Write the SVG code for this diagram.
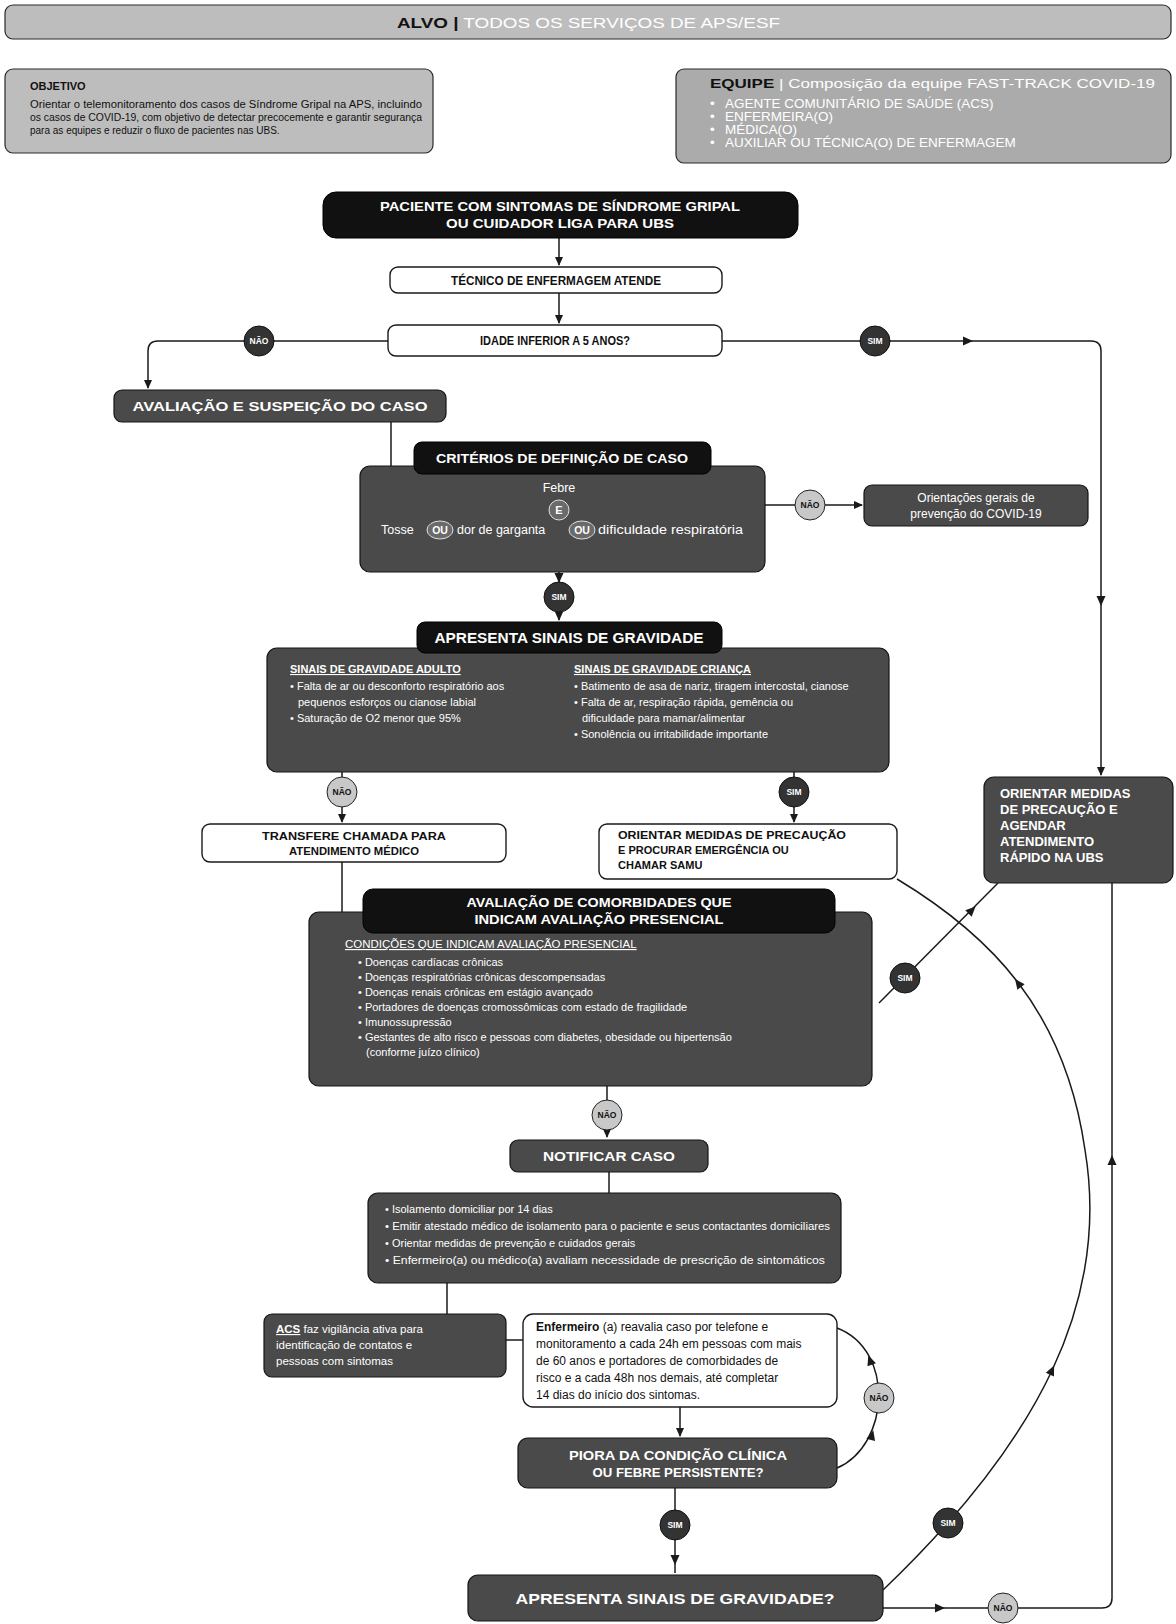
<svg xmlns="http://www.w3.org/2000/svg" width="1176" height="1624" viewBox="0 0 1176 1624">
<style>
text{font-family:"Liberation Sans",Arial,sans-serif;}
.lb{fill:#bdbdbd;stroke:#2a2a2a;stroke-width:1.2}
.dk{fill:#4a4a4a;stroke:#151515;stroke-width:1.2}
.bk{fill:#111;stroke:#000;stroke-width:1}
.wt{fill:#fff;stroke:#1a1a1a;stroke-width:1.4}
.h{font-weight:700;fill:#fff;text-anchor:middle}
.hd{font-weight:700;fill:#111;text-anchor:middle}
.b{fill:#fff;font-size:11px}
.c{stroke:#1a1a1a;stroke-width:1.5;fill:none}
.sim{fill:#333;stroke:#111;stroke-width:1}
.nao{fill:#c8c8c8;stroke:#222;stroke-width:1}
.st{font-size:8.5px;font-weight:700;text-anchor:middle}
.sw{fill:#fff}
.sb{fill:#111}
.eq{font-size:13.5px;fill:#fff}
</style>
<defs>
<marker id="a" markerWidth="10" markerHeight="10" refX="8" refY="5" orient="auto" markerUnits="userSpaceOnUse"><path d="M0,1 L9,5 L0,9 z" fill="#1a1a1a"/></marker>
<path id="ah" d="M-5,-4.5 L5,0 L-5,4.5 z" fill="#1a1a1a"/>
</defs>

<g id="alvo">
<rect class="lb" x="5" y="5" width="1166" height="34" rx="8"/>
<text x="397" y="28" font-size="14" textLength="383" lengthAdjust="spacingAndGlyphs"><tspan font-weight="700" fill="#111">ALVO |</tspan><tspan fill="#fff"> TODOS OS SERVIÇOS DE APS/ESF</tspan></text>
</g>

<g id="objetivo">
<rect class="lb" x="5" y="69" width="428" height="84" rx="8"/>
<text x="30" y="90" font-size="11" font-weight="700" fill="#111">OBJETIVO</text>
<text x="30" y="108" font-size="10" fill="#111" textLength="392" lengthAdjust="spacingAndGlyphs">Orientar o telemonitoramento dos casos de Síndrome Gripal na APS, incluindo</text>
<text x="30" y="121" font-size="10" fill="#111" textLength="392" lengthAdjust="spacingAndGlyphs">os casos de COVID-19, com objetivo de detectar precocemente e garantir segurança</text>
<text x="30" y="134" font-size="10" fill="#111">para as equipes e reduzir o fluxo de pacientes nas UBS.</text>
</g>

<g id="equipe">
<rect class="lb" x="676" y="69" width="495" height="94" rx="8" style="fill:#ababab"/>
<text x="710" y="88" font-size="12.5" textLength="445" lengthAdjust="spacingAndGlyphs"><tspan font-weight="700" fill="#111">EQUIPE</tspan><tspan fill="#fff"> | Composição da equipe FAST-TRACK COVID-19</tspan></text>
<text class="eq" x="710" y="108">•</text><text class="eq" x="725" y="108">AGENTE COMUNITÁRIO DE SAÚDE (ACS)</text>
<text class="eq" x="710" y="121">•</text><text class="eq" x="725" y="121">ENFERMEIRA(O)</text>
<text class="eq" x="710" y="134">•</text><text class="eq" x="725" y="134">MÉDICA(O)</text>
<text class="eq" x="710" y="147">•</text><text class="eq" x="725" y="147">AUXILIAR OU TÉCNICA(O) DE ENFERMAGEM</text>
</g>

<g id="connectors">
<path class="c" d="M559,238 V265" marker-end="url(#a)"/>
<path class="c" d="M559,293 V323" marker-end="url(#a)"/>
<path class="c" d="M388,341 H158 Q148,341 148,351 V388" marker-end="url(#a)"/>
<path class="c" d="M722,341 H1091 Q1101,341 1101,351 V775" marker-end="url(#a)"/>
<use href="#ah" transform="translate(968,341)"/>
<use href="#ah" transform="translate(1101,601) rotate(90)"/>
<path class="c" d="M391,422 V466"/>
<path class="c" d="M765,505 H862" marker-end="url(#a)"/>
<path class="c" d="M559,572 V620" marker-end="url(#a)"/>
<use href="#ah" transform="translate(559,578) rotate(90)"/>
<path class="c" d="M342,772 V822" marker-end="url(#a)"/>
<path class="c" d="M794,772 V822" marker-end="url(#a)"/>
<path class="c" d="M342,862 V912"/>
<path class="c" d="M879,1003 L998,883"/>
<use href="#ah" transform="translate(972,910) rotate(-45)"/>
<path class="c" d="M883,1590 C1040,1440 1110,1300 1085,1150 C1065,1010 990,935 897,879"/>
<use href="#ah" transform="translate(1052,1370) rotate(-65)"/>
<use href="#ah" transform="translate(1018,983) rotate(-127)"/>
<path class="c" d="M883,1608 H1102 Q1112,1608 1112,1598 V883"/>
<use href="#ah" transform="translate(940,1608)"/>
<use href="#ah" transform="translate(1112,1160) rotate(-90)"/>
<path class="c" d="M607,1086 V1137" marker-end="url(#a)"/>
<path class="c" d="M609,1172 V1193"/>
<path class="c" d="M447,1283 V1314"/>
<path class="c" d="M506,1340 H523"/>
<path class="c" d="M680,1407 V1436" marker-end="url(#a)"/>
<path class="c" d="M675,1488 V1573"/>
<use href="#ah" transform="translate(675,1560) rotate(90)"/>
<path class="c" d="M837,1468 C890,1445 895,1350 837,1328"/>
<use href="#ah" transform="translate(872,1435) rotate(-75)"/>
<use href="#ah" transform="translate(870,1360) rotate(-110)"/>
</g>

<g id="labels">
<circle class="sim" cx="259" cy="341" r="15"/><text class="st sw" x="259" y="344">NÃO</text>
<circle class="sim" cx="875" cy="341" r="15"/><text class="st sw" x="875" y="344">SIM</text>
<circle class="nao" cx="810" cy="505" r="15"/><text class="st sb" x="810" y="508">NÃO</text>
<circle class="sim" cx="559" cy="597" r="15"/><text class="st sw" x="559" y="600">SIM</text>
<circle class="nao" cx="342" cy="792" r="15"/><text class="st sb" x="342" y="795">NÃO</text>
<circle class="sim" cx="794" cy="792" r="15"/><text class="st sw" x="794" y="795">SIM</text>
<circle class="sim" cx="905" cy="978" r="15"/><text class="st sw" x="905" y="981">SIM</text>
<circle class="nao" cx="607" cy="1115" r="15"/><text class="st sb" x="607" y="1118">NÃO</text>
<circle class="nao" cx="879" cy="1398" r="15"/><text class="st sb" x="879" y="1401">NÃO</text>
<circle class="sim" cx="675" cy="1525" r="15"/><text class="st sw" x="675" y="1528">SIM</text>
<circle class="sim" cx="948" cy="1523" r="15"/><text class="st sw" x="948" y="1526">SIM</text>
<circle class="nao" cx="1003" cy="1608" r="15"/><text class="st sb" x="1003" y="1611">NÃO</text>
</g>

<g id="paciente">
<rect class="bk" x="323" y="192" width="475" height="46" rx="13"/>
<text class="h" x="560" y="211" font-size="13.5" textLength="360" lengthAdjust="spacingAndGlyphs">PACIENTE COM SINTOMAS DE SÍNDROME GRIPAL</text>
<text class="h" x="560" y="228" font-size="13.5" textLength="228" lengthAdjust="spacingAndGlyphs">OU CUIDADOR LIGA PARA UBS</text>
</g>

<g id="tecnico">
<rect class="wt" x="390" y="267" width="332" height="26" rx="8"/>
<text class="hd" x="556" y="285" font-size="12.5" textLength="210" lengthAdjust="spacingAndGlyphs">TÉCNICO DE ENFERMAGEM ATENDE</text>
</g>

<g id="idade">
<rect class="wt" x="388" y="325" width="334" height="31" rx="8"/>
<text class="hd" x="555" y="345" font-size="12.5" textLength="150" lengthAdjust="spacingAndGlyphs">IDADE INFERIOR A 5 ANOS?</text>
</g>

<g id="avaliacao">
<rect class="dk" x="114" y="390" width="332" height="32" rx="8"/>
<text class="h" x="280" y="411" font-size="13.5" textLength="295" lengthAdjust="spacingAndGlyphs">AVALIAÇÃO E SUSPEIÇÃO DO CASO</text>
</g>

<g id="criterios">
<rect class="dk" x="360" y="466" width="405" height="106" rx="10"/>
<rect class="bk" x="414" y="442" width="297" height="32" rx="8"/>
<text class="h" x="562" y="463" font-size="13.5" textLength="252" lengthAdjust="spacingAndGlyphs">CRITÉRIOS DE DEFINIÇÃO DE CASO</text>
<text x="559" y="492" font-size="12.5" fill="#fff" text-anchor="middle">Febre</text>
<circle cx="559" cy="510" r="10" fill="#6a6a6a" stroke="#e0e0e0"/>
<text x="559" y="514" font-size="11" font-weight="700" fill="#fff" text-anchor="middle">E</text>
<ellipse cx="440" cy="530" rx="13" ry="9" fill="#6a6a6a" stroke="#e0e0e0"/>
<ellipse cx="582" cy="530" rx="13" ry="9" fill="#6a6a6a" stroke="#e0e0e0"/>
<text x="381" y="534" font-size="12.5" fill="#fff">Tosse</text>
<text x="440" y="534" font-size="10.5" font-weight="700" fill="#fff" text-anchor="middle">OU</text>
<text x="457" y="534" font-size="12.5" fill="#fff">dor de garganta</text>
<text x="582" y="534" font-size="10.5" font-weight="700" fill="#fff" text-anchor="middle">OU</text>
<text x="598" y="534" font-size="12.5" fill="#fff" textLength="145" lengthAdjust="spacingAndGlyphs">dificuldade respiratória</text>
</g>

<g id="orientacoes">
<rect class="dk" x="864" y="485" width="224" height="41" rx="8"/>
<text x="976" y="502" font-size="12" fill="#fff" text-anchor="middle">Orientações gerais de</text>
<text x="976" y="518" font-size="12" fill="#fff" text-anchor="middle">prevenção do COVID-19</text>
</g>

<g id="sinais">
<rect class="dk" x="267" y="648" width="622" height="124" rx="10"/>
<rect class="bk" x="417" y="622" width="305" height="31" rx="8"/>
<text class="h" x="569" y="643" font-size="14" textLength="269" lengthAdjust="spacingAndGlyphs">APRESENTA SINAIS DE GRAVIDADE</text>
<text x="290" y="673" font-size="11" font-weight="700" fill="#fff" text-decoration="underline">SINAIS DE GRAVIDADE ADULTO</text>
<text class="b" x="290" y="690">• Falta de ar ou desconforto respiratório aos</text>
<text class="b" x="298" y="706">pequenos esforços ou cianose labial</text>
<text class="b" x="290" y="722">• Saturação de O2 menor que 95%</text>
<text x="574" y="673" font-size="11" font-weight="700" fill="#fff" text-decoration="underline">SINAIS DE GRAVIDADE CRIANÇA</text>
<text class="b" x="574" y="690">• Batimento de asa de nariz, tiragem intercostal, cianose</text>
<text class="b" x="574" y="706">• Falta de ar, respiração rápida, gemência ou</text>
<text class="b" x="582" y="722">dificuldade para mamar/alimentar</text>
<text class="b" x="574" y="738">• Sonolência ou irritabilidade importante</text>
</g>

<g id="transfere">
<rect class="wt" x="202" y="824" width="304" height="38" rx="8"/>
<text class="hd" x="354" y="840" font-size="11" textLength="184" lengthAdjust="spacingAndGlyphs">TRANSFERE CHAMADA PARA</text>
<text class="hd" x="354" y="855" font-size="11" textLength="130" lengthAdjust="spacingAndGlyphs">ATENDIMENTO MÉDICO</text>
</g>

<g id="samu">
<rect class="wt" x="599" y="824" width="298" height="55" rx="8"/>
<text x="618" y="839" font-size="11" font-weight="700" fill="#111" textLength="228" lengthAdjust="spacingAndGlyphs">ORIENTAR MEDIDAS DE PRECAUÇÃO</text>
<text x="618" y="854" font-size="11" font-weight="700" fill="#111">E PROCURAR EMERGÊNCIA OU</text>
<text x="618" y="869" font-size="11" font-weight="700" fill="#111">CHAMAR SAMU</text>
</g>

<g id="agendar">
<rect class="dk" x="984" y="777" width="189" height="106" rx="10"/>
<text x="1000" y="798" font-size="13" font-weight="700" fill="#fff">ORIENTAR MEDIDAS</text>
<text x="1000" y="814" font-size="13" font-weight="700" fill="#fff">DE PRECAUÇÃO E</text>
<text x="1000" y="830" font-size="13" font-weight="700" fill="#fff">AGENDAR</text>
<text x="1000" y="846" font-size="13" font-weight="700" fill="#fff">ATENDIMENTO</text>
<text x="1000" y="862" font-size="13" font-weight="700" fill="#fff">RÁPIDO NA UBS</text>
</g>

<g id="comorbidades">
<rect class="dk" x="309" y="912" width="563" height="174" rx="10"/>
<rect class="bk" x="363" y="889" width="472" height="44" rx="10"/>
<text class="h" x="599" y="907" font-size="13.5" textLength="265" lengthAdjust="spacingAndGlyphs">AVALIAÇÃO DE COMORBIDADES QUE</text>
<text class="h" x="599" y="924" font-size="13.5" textLength="249" lengthAdjust="spacingAndGlyphs">INDICAM AVALIAÇÃO PRESENCIAL</text>
<text x="345" y="948" font-size="11.5" fill="#fff" text-decoration="underline">CONDIÇÕES QUE INDICAM AVALIAÇÃO PRESENCIAL</text>
<text class="b" x="358" y="966">• Doenças cardíacas crônicas</text>
<text class="b" x="358" y="981">• Doenças respiratórias crônicas descompensadas</text>
<text class="b" x="358" y="996">• Doenças renais crônicas em estágio avançado</text>
<text class="b" x="358" y="1011">• Portadores de doenças cromossômicas com estado de fragilidade</text>
<text class="b" x="358" y="1026">• Imunossupressão</text>
<text class="b" x="358" y="1041">• Gestantes de alto risco e pessoas com diabetes, obesidade ou hipertensão</text>
<text class="b" x="366" y="1056">(conforme juízo clínico)</text>
</g>

<g id="notificar">
<rect class="dk" x="510" y="1140" width="198" height="32" rx="8"/>
<text class="h" x="609" y="1161" font-size="13.5" textLength="132" lengthAdjust="spacingAndGlyphs">NOTIFICAR CASO</text>
</g>

<g id="condutas">
<rect class="dk" x="368" y="1193" width="473" height="90" rx="10"/>
<text class="b" x="385" y="1213">• Isolamento domiciliar por 14 dias</text>
<text class="b" x="385" y="1230" textLength="445" lengthAdjust="spacingAndGlyphs">• Emitir atestado médico de isolamento para o paciente e seus contactantes domiciliares</text>
<text class="b" x="385" y="1247">• Orientar medidas de prevenção e cuidados gerais</text>
<text class="b" x="385" y="1264" textLength="440" lengthAdjust="spacingAndGlyphs">• Enfermeiro(a) ou médico(a) avaliam necessidade de prescrição de sintomáticos</text>
</g>

<g id="acs">
<rect class="dk" x="264" y="1314" width="242" height="63" rx="8"/>
<text x="276" y="1333" font-size="11.5" fill="#fff"><tspan font-weight="700" text-decoration="underline">ACS</tspan> faz vigilância ativa para</text>
<text x="276" y="1349" font-size="11.5" fill="#fff">identificação de contatos e</text>
<text x="276" y="1365" font-size="11.5" fill="#fff">pessoas com sintomas</text>
</g>

<g id="enfermeiro">
<rect class="wt" x="523" y="1314" width="314" height="93" rx="10"/>
<text x="536" y="1331" font-size="12" fill="#111"><tspan font-weight="700">Enfermeiro</tspan> (a) reavalia caso por telefone e</text>
<text x="536" y="1348" font-size="12" fill="#111">monitoramento a cada 24h em pessoas com mais</text>
<text x="536" y="1365" font-size="12" fill="#111">de 60 anos e portadores de comorbidades de</text>
<text x="536" y="1382" font-size="12" fill="#111">risco e a cada 48h nos demais, até completar</text>
<text x="536" y="1399" font-size="12" fill="#111">14 dias do início dos sintomas.</text>
</g>

<g id="piora">
<rect class="dk" x="518" y="1438" width="319" height="50" rx="10"/>
<text class="h" x="678" y="1460" font-size="13" textLength="218" lengthAdjust="spacingAndGlyphs">PIORA DA CONDIÇÃO CLÍNICA</text>
<text class="h" x="678" y="1477" font-size="13" textLength="171" lengthAdjust="spacingAndGlyphs">OU FEBRE PERSISTENTE?</text>
</g>

<g id="gravidade2">
<rect class="dk" x="468" y="1575" width="415" height="46" rx="10"/>
<text class="h" x="675" y="1604" font-size="14" textLength="319" lengthAdjust="spacingAndGlyphs">APRESENTA SINAIS DE GRAVIDADE?</text>
</g>
</svg>
